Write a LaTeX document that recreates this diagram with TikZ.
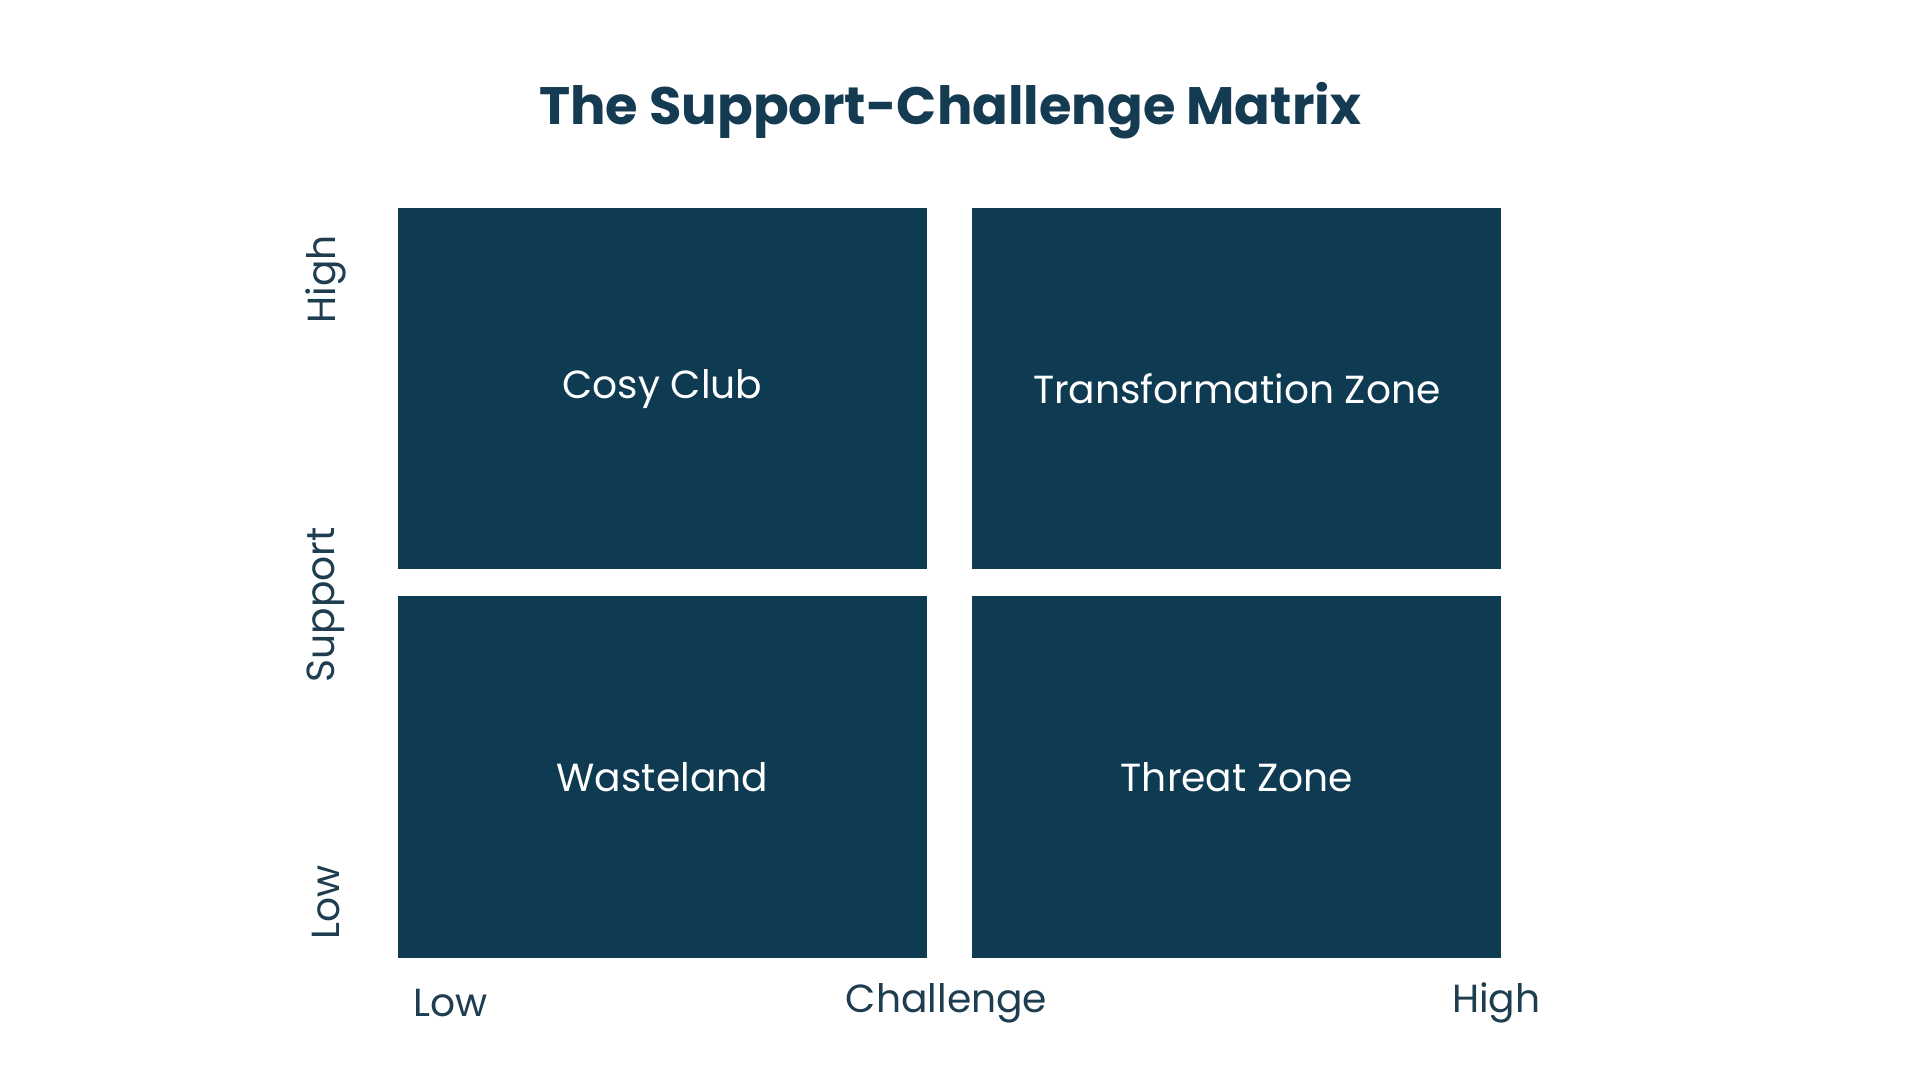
\documentclass[tikz,border=0pt]{standalone}
\usepackage{fontspec}
\setmainfont{Poppins}
\definecolor{navy}{HTML}{0E3A52}
\definecolor{titlec}{HTML}{143B52}
\definecolor{lab}{HTML}{1F3D50}
\begin{document}
\begin{tikzpicture}[x=1pt,y=-1pt,
  quad/.style={fill=navy,minimum width=432pt,minimum height=295pt,inner sep=0pt,text=white,font=\fontsize{32}{38}\selectfont},
  axis/.style={text=lab,font=\fontsize{32}{38}\selectfont}]
\useasboundingbox[fill=white] (0,0) rectangle (1568,882);
\node[text=titlec,font=\fontsize{43}{50}\selectfont\bfseries] (title) at (776,90) {The Support-Challenge Matrix};
\node[quad] (cc) at (541,317.5) {Cosy Club};
\node[quad] (tz) at (1010,317.5) {Transformation Zone};
\node[quad] (wl) at (541,634.5) {Wasteland};
\node[quad] (th) at (1010,634.5) {Threat Zone};
\node[axis,rotate=90] (yh) at (266,228) {High};
\node[axis,rotate=90] (ys) at (266,494) {Support};
\node[axis,rotate=90] (yl) at (266,737) {Low};
\node[axis] (xl) at (368,819) {Low};
\node[axis] (xc) at (773,819) {Challenge};
\node[axis] (xh) at (1222,819) {High};
\end{tikzpicture}
\end{document}
